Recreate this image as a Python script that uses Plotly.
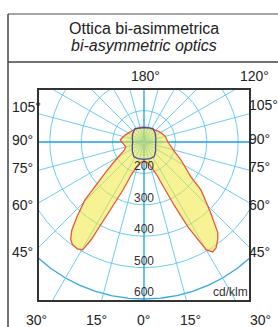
import numpy as np
import plotly.graph_objects as go

W, H = 278, 327

# ---------------- data (cd/klm) ----------------
# angle from nadir in degrees (negative = left half), luminous intensity
red_angles = [-180, -160, -140, -125, -110, -95, -85, -75, -68, -62, -56, -52, -49.2, -47,
              -45.5, -42, -39.3, -37, -35, -32, -29.6, -28.4, -27.4, -25.5, -23.6, -21, -17,
              -10, 0, 10, 17, 21, 23.6, 25.5, 27.4, 29, 30, 32, 34.2, 37, 39.1, 43.7, 49.9,
              53.3, 58, 64, 72, 79.5, 90, 105, 120, 137, 160, 180]
red_values = [148, 148, 151, 154, 164, 176, 167, 160, 167, 186, 218, 253, 285, 323,
              364, 418, 463, 488, 498, 501, 495, 453, 387, 323, 266, 211, 183,
              167, 160, 167, 186, 211, 266, 323, 405, 460, 497, 513, 508, 490, 473, 404, 337,
              287, 259, 231, 203, 188, 176, 170, 161, 152, 148, 148]

blue_angles = [-180, -160, -146, -130, -110, -90, -70, -50, -34, -20, 0,
               20, 34, 50, 70, 90, 110, 130, 146, 160, 180]
blue_values = [146, 148, 151, 146, 140, 136, 140, 148, 157, 156, 155,
               156, 157, 148, 140, 138, 140, 146, 151, 148, 146]

circle_values = [200, 300, 400, 500, 600]
radial_labels = ["200", "300", "400", "500", "600"]
centre_value = 100

left_labels = ["105°", "90°", "75°", "60°", "45°"]
right_labels = ["105°", "90°", "75°", "60°", "45°"]
bottom_labels = ["30°", "15°", "0°", "15°", "30°"]
top_labels = ["180°", "120°"]


def to_xy(theta_deg, v):
    r = np.asarray(v, dtype=float) - centre_value
    t = np.radians(np.asarray(theta_deg, dtype=float))
    return r * np.sin(t), -r * np.cos(t)


FONT = "Liberation Sans, Arial, sans-serif"
GRID = "#5cc8f0"
MAIN = "#1aa0e0"

fig = go.Figure()

# circles
th = np.linspace(0, 360, 721)
for v in circle_values:
    cx, cy = to_xy(th, np.full_like(th, v))
    fig.add_trace(go.Scatter(x=cx, y=cy, mode="lines",
                             line=dict(color=GRID if v < 600 else MAIN, width=1 if v < 600 else 1.3),
                             opacity=0.9, hoverinfo="skip", showlegend=False))

# short spokes every 5 degrees near the centre
for a in range(0, 360, 5):
    sx, sy = to_xy([a, a], [centre_value, 158])
    fig.add_trace(go.Scatter(x=sx, y=sy, mode="lines", line=dict(color=GRID, width=0.5),
                             opacity=0.5, hoverinfo="skip", showlegend=False))

# long spokes every 15 degrees
for a in range(0, 360, 15):
    sx, sy = to_xy([a, a], [centre_value, 900])
    main = a % 90 == 0
    fig.add_trace(go.Scatter(x=sx, y=sy, mode="lines",
                             line=dict(color=MAIN if main else GRID, width=1.3 if main else 1),
                             opacity=1 if main else 0.9, hoverinfo="skip", showlegend=False))

# yellow translucent fill + red outline
rx, ry = to_xy(red_angles, red_values)
fig.add_trace(go.Scatter(x=rx, y=ry, mode="lines", fill="toself",
                         fillcolor="rgba(240,232,60,0.55)", line=dict(color="#e8583c", width=1.3),
                         hoverinfo="skip", showlegend=False))
# blue outline
bx, by = to_xy(blue_angles, blue_values)
fig.add_trace(go.Scatter(x=bx, y=by, mode="lines", line=dict(color="#4b4a96", width=1.3),
                         hoverinfo="skip", showlegend=False))

# radial labels
for v, lab in zip(circle_values, radial_labels):
    lx, ly = to_xy(0, v)
    fig.add_annotation(x=float(lx), y=float(ly), xref="x", yref="y", text=lab, showarrow=False,
                       yshift=7, font=dict(family=FONT, size=12, color="#333"))

fig.add_annotation(x=1, y=0, xref="x domain", yref="y domain", text="cd/klm", showarrow=False,
                   xanchor="right", yanchor="bottom", xshift=1, yshift=-1,
                   font=dict(family=FONT, size=12, color="#333"))


def P(px, py):
    return px / W, 1 - py / H


ann = []
for lab, py in zip(left_labels, [107, 140, 168, 205, 252]):
    ann.append((lab, 10, py, "left"))
for lab, py in zip(right_labels, [105, 139, 167, 205, 252]):
    ann.append((lab, 247, py, "left"))
for lab, px in zip(bottom_labels, [36, 96, 143, 191, 260]):
    ann.append((lab, px, 320, "center"))
for lab, px in zip(top_labels, [145, 254]):
    ann.append((lab, px, 76, "center"))
for lab, px, py, anc in ann:
    x, y = P(px, py)
    fig.add_annotation(x=x, y=y, xref="paper", yref="paper", text=lab, showarrow=False,
                       xanchor=anc, yanchor="middle", font=dict(family=FONT, size=14, color="#222"))

# title
x, y = P(144, 29)
fig.add_annotation(x=x, y=y, xref="paper", yref="paper", text="Ottica bi-asimmetrica",
                   showarrow=False, xanchor="center", yanchor="middle",
                   font=dict(family=FONT, size=16, color="#222"))
x, y = P(144, 46)
fig.add_annotation(x=x, y=y, xref="paper", yref="paper", text="<i>bi-asymmetric optics</i>",
                   showarrow=False, xanchor="center", yanchor="middle",
                   font=dict(family=FONT, size=16, color="#222"))

# frame lines
frame = [((8, 14), (W + 5, 14), "#888"), ((8, 62), (W + 5, 62), "#444"), ((8, 14), (8, H + 5), "#444")]
for (x0, y0), (x1, y1), c in frame:
    a0, b0 = P(x0, y0)
    a1, b1 = P(x1, y1)
    fig.add_shape(type="line", xref="paper", yref="paper", x0=a0, y0=b0, x1=a1, y1=b1,
                  line=dict(color=c, width=1.5))

px_per_unit = 0.314
cx_px, cy_px = 144, 142
box = dict(l=39, r=249, t=90, b=300)
xr = [(box["l"] - cx_px) / px_per_unit, (box["r"] - cx_px) / px_per_unit]
yr = [-(box["b"] - cy_px) / px_per_unit, (cy_px - box["t"]) / px_per_unit]

axis_common = dict(showgrid=False, zeroline=False, showticklabels=False, ticks="",
                   showline=True, mirror=True, linecolor="#333", linewidth=1.5)
fig.update_layout(
    width=W, height=H, margin=dict(l=0, r=0, t=0, b=0),
    paper_bgcolor="white", plot_bgcolor="white",
    xaxis=dict(range=xr, domain=[box["l"] / W, box["r"] / W], **axis_common),
    yaxis=dict(range=yr, domain=[1 - box["b"] / H, 1 - box["t"] / H], **axis_common),
    showlegend=False,
)

fig.write_html("out.html", config={"displayModeBar": False},
               post_script="document.body.style.margin='0px';")
